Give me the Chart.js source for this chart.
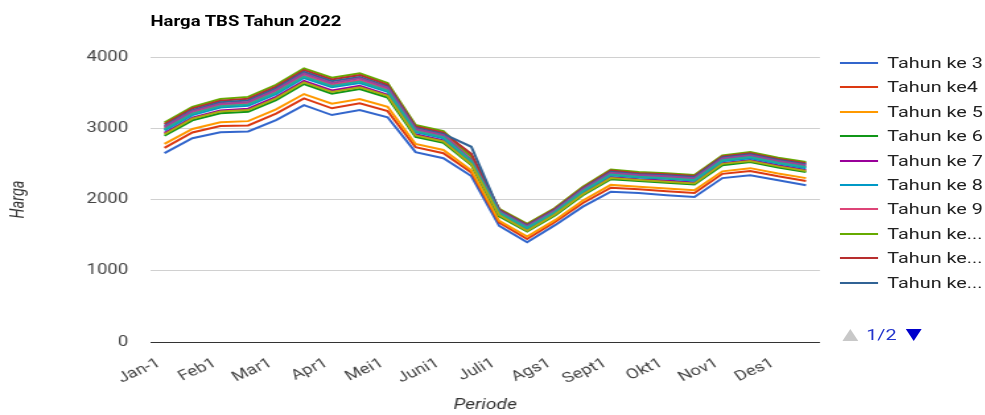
<!DOCTYPE html>
<html>
<head>
<meta charset="utf-8">
<script src="https://cdn.jsdelivr.net/npm/chart.js@4.4.1/dist/chart.umd.min.js"></script>
<style>
  html, body { margin: 0; padding: 0; background: #fff; overflow: hidden; }
  /* the reference is stretched horizontally, so the whole chart is drawn narrow and scaled */
  #wrap {
    position: relative; width: 746px; height: 415px;
    transform: scaleX(1.3204); transform-origin: 0 0;
    font-family: Roboto, Arial, sans-serif;
  }
  #c { position: absolute; left: 0; top: 0; }
  #title {
    position: absolute; left: 114px; top: 13px;
    font: bold 14px Roboto, Arial, sans-serif; color: #000; white-space: nowrap;
  }
  #legend { position: absolute; left: 636px; top: 51px; }
  .row { position: relative; height: 24.4px; white-space: nowrap; }
  .row .swatch { position: absolute; left: 0; top: 11px; width: 29px; height: 2px; }
  .row .txt { position: absolute; left: 36px; top: 3px; font-size: 15px; color: #222; }
  #pager { position: absolute; left: 638px; top: 326px; height: 18px; }
  #pager .up {
    position: absolute; left: 0; top: 3px; width: 0; height: 0;
    border-left: 6px solid transparent; border-right: 6px solid transparent;
    border-bottom: 12px solid #c8c8c8;
  }
  #pager .num { position: absolute; left: 18px; top: 0; font-size: 15px; color: #2233cc; }
  #pager .down {
    position: absolute; left: 48px; top: 3px; width: 0; height: 0;
    border-left: 6px solid transparent; border-right: 6px solid transparent;
    border-top: 12px solid #0000cc;
  }
</style>
</head>
<body>
<div id="wrap">
  <canvas id="c" width="746" height="415" style="width:746px;height:415px"></canvas>
  <div id="title">Harga TBS Tahun 2022</div>
  <div id="legend"></div>
  <div id="pager"><span class="up"></span><span class="num">1/2</span><span class="down"></span></div>
</div>
<script>
/* global Chart */

const periods = ['Jan-1', 'Jan-2', 'Feb1', 'Feb2', 'Mar1', 'Mar2', 'Apr1', 'Apr2',
  'Mei1', 'Mei2', 'Juni1', 'Juni2', 'Juli1', 'Juli2', 'Ags1', 'Ags2',
  'Sept1', 'Sept2', 'Okt1', 'Okt2', 'Nov1', 'Nov2', 'Des1', 'Des2']

const yTicks = [0, 1000, 2000, 3000, 4000]

const seriesNames = ['Tahun ke 3', 'Tahun ke4', 'Tahun ke 5', 'Tahun ke 6', 'Tahun ke 7',
  'Tahun ke 8', 'Tahun ke 9', 'Tahun ke 10-20', 'Tahun ke 21', 'Tahun ke 22',
  'Tahun ke 23', 'Tahun ke 24', 'Tahun ke 25']

const tahunKe3 = [2650, 2860, 2945, 2955, 3115, 3325, 3185, 3255, 3155, 2665, 2580, 2330, 1630, 1400, 1640, 1900, 2110, 2090, 2060, 2035, 2300, 2340, 2270, 2200]
const tahunKe4 = [2725, 2940, 3030, 3040, 3205, 3420, 3280, 3350, 3240, 2735, 2650, 2380, 1675, 1445, 1685, 1950, 2165, 2145, 2115, 2090, 2360, 2400, 2325, 2260]
const tahunKe5 = [2780, 2990, 3085, 3100, 3265, 3480, 3345, 3410, 3300, 2780, 2695, 2410, 1700, 1480, 1710, 1985, 2205, 2180, 2155, 2130, 2395, 2440, 2365, 2300]
const tahunKe6 = [2895, 3110, 3210, 3230, 3395, 3620, 3485, 3550, 3430, 2880, 2795, 2485, 1765, 1550, 1775, 2060, 2285, 2260, 2235, 2210, 2480, 2525, 2450, 2385]
const tahunKe7 = [2935, 3150, 3250, 3275, 3440, 3665, 3530, 3595, 3470, 2915, 2830, 2510, 1790, 1570, 1800, 2085, 2315, 2285, 2265, 2240, 2510, 2555, 2480, 2415]
const tahunKe8 = [2970, 3185, 3290, 3315, 3480, 3705, 3575, 3635, 3510, 2945, 2860, 2530, 1810, 1590, 1820, 2105, 2340, 2310, 2290, 2265, 2535, 2580, 2505, 2440]
const tahunKe9 = [3005, 3220, 3325, 3355, 3520, 3745, 3615, 3675, 3550, 2975, 2890, 2620, 1825, 1615, 1835, 2130, 2365, 2330, 2315, 2290, 2560, 2605, 2530, 2465]
const tahunKe10to20 = [3080, 3300, 3410, 3440, 3610, 3840, 3710, 3770, 3635, 3045, 2960, 2600, 1870, 1660, 1880, 2180, 2420, 2385, 2370, 2345, 2620, 2665, 2585, 2525]
const tahunKe21 = [3060, 3280, 3385, 3415, 3585, 3815, 3685, 3745, 3610, 3025, 2940, 2640, 1860, 1645, 1870, 2165, 2405, 2370, 2355, 2330, 2605, 2650, 2570, 2510]
const tahunKe22 = [3035, 3255, 3365, 3390, 3560, 3790, 3660, 3720, 3585, 3005, 2920, 2740, 1845, 1635, 1855, 2150, 2390, 2355, 2340, 2315, 2590, 2635, 2555, 2495]
const tahunKe23 = [3020, 3240, 3345, 3370, 3540, 3770, 3635, 3700, 3570, 2990, 2905, 2560, 1835, 1625, 1845, 2140, 2375, 2345, 2325, 2300, 2575, 2620, 2540, 2480]
const tahunKe24 = [2985, 3205, 3310, 3335, 3500, 3725, 3595, 3655, 3530, 2960, 2875, 2540, 1815, 1605, 1825, 2120, 2350, 2320, 2300, 2275, 2550, 2595, 2515, 2455]
const tahunKe25 = [2915, 3135, 3235, 3255, 3420, 3645, 3510, 3575, 3455, 2900, 2815, 2495, 1780, 1560, 1790, 2075, 2300, 2275, 2250, 2225, 2500, 2540, 2465, 2400]

const seriesValues = [tahunKe3, tahunKe4, tahunKe5, tahunKe6, tahunKe7, tahunKe8, tahunKe9,
  tahunKe10to20, tahunKe21, tahunKe22, tahunKe23, tahunKe24, tahunKe25]

const colors = ['#3366cc', '#dc3912', '#ff9900', '#109618', '#990099', '#0099c6', '#dd4477',
  '#66aa00', '#b82e2e', '#316395', '#994499', '#22aa99', '#aaaa11']

const legendPageSize = 10

const datasets = seriesNames.map((name, i) => ({
  label: name,
  data: seriesValues[i],
  borderColor: colors[i],
  backgroundColor: colors[i],
  borderWidth: 2,
  pointRadius: 0,
  tension: 0,
  // later series are painted over earlier ones
  order: seriesNames.length - i
}))

const chart = new Chart(document.getElementById('c'), {
  type: 'line',
  data: { labels: periods, datasets },
  options: {
    responsive: false,
    animation: false,
    devicePixelRatio: 1,
    layout: { padding: { top: 57, right: 125, bottom: 0, left: 0 } },
    plugins: {
      legend: { display: false },
      tooltip: { enabled: false }
    },
    scales: {
      x: {
        offset: true,
        grid: { display: false },
        border: { display: false },
        ticks: {
          autoSkip: false,
          minRotation: 30,
          maxRotation: 30,
          padding: 5,
          labelOffset: -4,
          color: '#444',
          font: { family: 'Roboto', size: 14 },
          callback: function (value, index) {
            return index % 2 === 0 ? this.getLabelForValue(value) : ''
          }
        },
        title: {
          display: true,
          text: 'Periode',
          color: '#333',
          font: { family: 'Roboto', size: 14.5, style: 'italic' },
          padding: { top: 0, bottom: 1 }
        },
        afterFit: scale => { scale.height = 73 }
      },
      y: {
        min: 0,
        max: 4000,
        afterBuildTicks: scale => { scale.ticks = yTicks.map(v => ({ value: v })) },
        grid: {
          drawTicks: false,
          color: ctx => (ctx.tick && ctx.tick.value === 0 ? '#333' : '#d0d0d0'),
          lineWidth: 1
        },
        border: { display: false },
        ticks: {
          padding: 17,
          color: '#444',
          font: { family: 'Roboto', size: 14 },
          callback: value => String(value)
        },
        title: {
          display: true,
          text: 'Harga',
          color: '#333',
          font: { family: 'Roboto', size: 14.5, style: 'italic' },
          padding: { top: 6, bottom: 0 }
        },
        afterFit: scale => { scale.width = 114 }
      }
    }
  }
})

// legend page 1 of 2, long names cut like the original
const legendEl = document.getElementById('legend')
const measure = document.createElement('canvas').getContext('2d')
measure.font = '15px Roboto'
const maxTextWidth = 76

function fitName (name) {
  if (measure.measureText(name).width <= maxTextWidth) return name
  const words = name.split(' ')
  while (words.length > 1) {
    words.pop()
    const cut = words.join(' ') + '...'
    if (measure.measureText(cut).width <= maxTextWidth) return cut
  }
  return name
}

chart.data.datasets.slice(0, legendPageSize).forEach(ds => {
  const row = document.createElement('div')
  row.className = 'row'
  const swatch = document.createElement('span')
  swatch.className = 'swatch'
  swatch.style.background = ds.borderColor
  const txt = document.createElement('span')
  txt.className = 'txt'
  txt.textContent = fitName(ds.label)
  row.appendChild(swatch)
  row.appendChild(txt)
  legendEl.appendChild(row)
})
</script>
</body>
</html>
